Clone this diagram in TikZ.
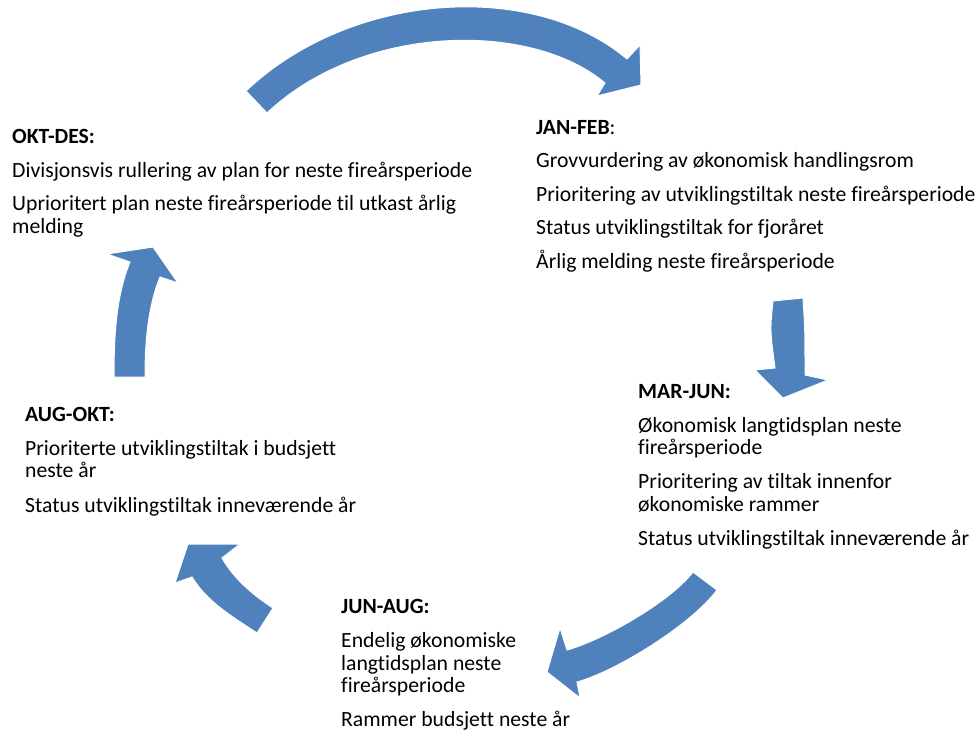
\documentclass[tikz,border=0pt]{standalone}
\usepackage{fontspec}
\setmainfont{Carlito}[Ligatures=NoCommon]
\definecolor{arrowblue}{HTML}{4F81BD}
\tikzset{
  phase/.style={anchor=base west, inner sep=0pt, align=left,
    font=\fontsize{21.7}{22.5}\selectfont},
  bigarrow/.style={fill=arrowblue, draw=white, line width=1pt},
}
\begin{document}
\begin{tikzpicture}[x=1pt,y=-1pt]
\useasboundingbox (0,0) rectangle (977,731);

% phase texts (anchored at the baseline of their last line)
\node[phase] (oktdes) at (12,233) {\textbf{OKT-DES:}\\[11pt]
  Divisjonsvis rullering av plan for neste fireårsperiode\\[11pt]
  Uprioritert plan neste fireårsperiode til utkast årlig\\
  melding};
\node[phase] (janfeb) at (536,268) {\textbf{JAN-FEB}:\\[11pt]
  Grovvurdering av økonomisk handlingsrom\\[11pt]
  Prioritering av utviklingstiltak neste fireårsperiode\\[11pt]
  Status utviklingstiltak for fjoråret\\[11pt]
  Årlig melding neste fireårsperiode};
\node[phase] (marjun) at (638,545) {\textbf{MAR-JUN:}\\[11.5pt]
  Økonomisk langtidsplan neste\\
  fireårsperiode\\[11.5pt]
  Prioritering av tiltak innenfor\\
  økonomiske rammer\\[11.5pt]
  Status utviklingstiltak inneværende år};
\node[phase] (junaug) at (341,726) {\textbf{JUN-AUG:}\\[11.5pt]
  Endelig økonomiske\\
  langtidsplan neste\\
  fireårsperiode\\[11pt]
  Rammer budsjett neste år};
\node[phase] (augokt) at (25,512) {\textbf{AUG-OKT:}\\[11.5pt]
  Prioriterte utviklingstiltak i budsjett\\
  neste år\\[12pt]
  Status utviklingstiltak inneværende år};

% top arrow (OKT-DES -> JAN-FEB)
\fill[bigarrow] (246,91) .. controls (350,-8) and (532,-21) .. (627,59)
  -- (640,45) -- (641,85) -- (597,96) -- (605,83)
  .. controls (530,20) and (361,24) .. (267,113) -- cycle;

% right arrow (JAN-FEB -> MAR-JUN)
\fill[bigarrow] (773,301) -- (803,298) .. controls (805,330) .. (805,375)
  -- (828,380) -- (783,398) -- (755,370) -- (775,368)
  .. controls (770,330) .. (773,301) -- cycle;

% bottom right arrow (MAR-JUN -> JUN-AUG)
\fill[bigarrow] (693,572) -- (717,590) .. controls (692,624) and (617,671) .. (577,682)
  -- (580,698) -- (547,672) -- (560,628) -- (567,650)
  .. controls (603,640) and (670,602) .. (693,572) -- cycle;

% bottom left arrow (JUN-AUG -> AUG-OKT)
\fill[bigarrow] (188,544) -- (240,544) -- (222,558)
  .. controls (234,579) and (253,595) .. (273,608) -- (257,633)
  .. controls (233,617) and (207,602) .. (192,577) -- (175,583) -- cycle;

% left arrow (AUG-OKT -> OKT-DES)
\fill[bigarrow] (114,377) .. controls (114,339) and (115.6,297) .. (130,262)
  -- (107,254) -- (153,247) -- (178,283) -- (160,277)
  .. controls (147.5,307.7) and (145,344) .. (145,377) -- cycle;
\end{tikzpicture}
\end{document}
